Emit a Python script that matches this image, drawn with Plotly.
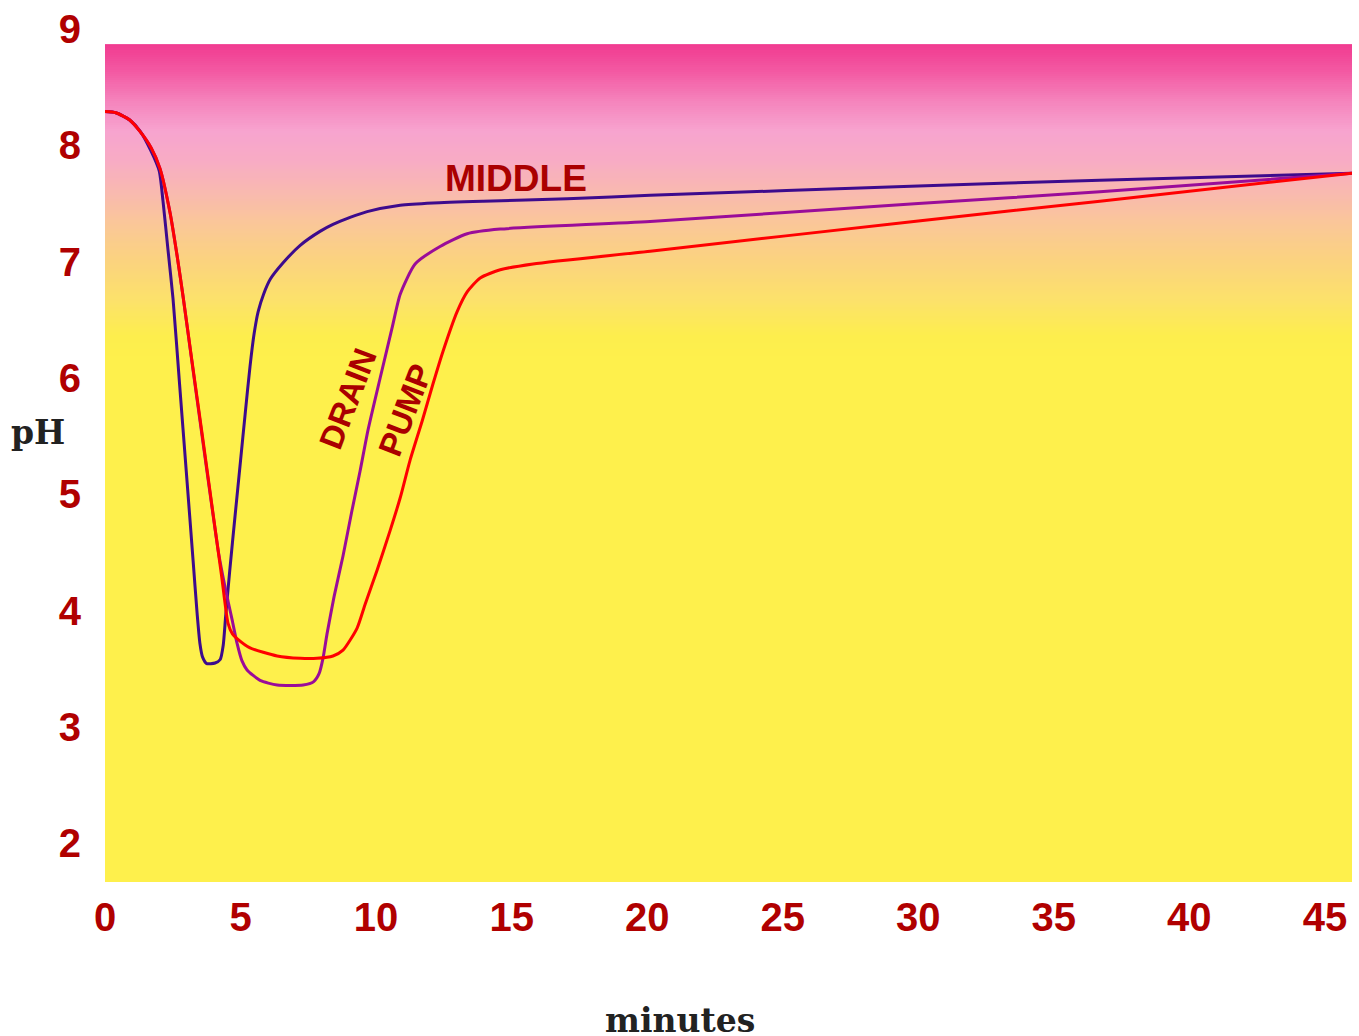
import numpy as np
import plotly.graph_objects as go

# ---------------- data ----------------
middle_t = [0, 0.4, 0.9, 1.3, 1.7, 2.0, 2.14, 2.32, 2.51, 2.75, 3.00, 3.25, 3.40, 3.50, 3.60,
            3.75, 4.06, 4.25, 4.36, 4.45, 4.60, 4.80, 5.00, 5.17, 5.35, 5.50, 5.65, 5.85, 6.10,
            6.57, 7.20, 7.93, 8.41, 9.04, 9.67, 10.89, 12.10, 13.95, 17.05, 20.11, 30.0, 36.7, 46.0]
middle_ph = [8.29, 8.28, 8.22, 8.12, 7.95, 7.78, 7.52, 7.11, 6.68, 5.95, 5.19, 4.43, 3.97, 3.72, 3.60,
             3.545, 3.55, 3.58, 3.70, 3.95, 4.34, 4.82, 5.29, 5.69, 6.10, 6.38, 6.57, 6.72, 6.85,
             6.99, 7.14, 7.26, 7.32, 7.38, 7.43, 7.485, 7.505, 7.52, 7.54, 7.57, 7.65, 7.70, 7.76]

drain_t = [0, 0.4, 0.9, 1.29, 1.7, 2.03, 2.40, 2.66, 2.88, 3.20, 3.60, 4.00, 4.20, 4.43, 4.69,
           4.87, 5.05, 5.24, 5.72, 6.35, 7.31, 7.70, 7.90, 8.05, 8.19, 8.45, 8.78, 9.11, 9.41,
           9.70, 10.15, 10.59, 10.89, 11.44, 12.36, 13.36, 14.58, 20.11, 30.0, 36.7, 46.0]
drain_ph = [8.29, 8.28, 8.22, 8.12, 7.98, 7.80, 7.42, 7.05, 6.70, 6.15, 5.47, 4.80, 4.48, 4.20, 3.92,
            3.72, 3.57, 3.49, 3.40, 3.36, 3.36, 3.39, 3.46, 3.60, 3.80, 4.12, 4.47, 4.86, 5.20,
            5.55, 6.00, 6.43, 6.72, 6.98, 7.13, 7.24, 7.28, 7.345, 7.50, 7.60, 7.76]

pump_t = [0, 0.4, 0.9, 1.29, 1.7, 2.03, 2.40, 2.66, 2.88, 3.20, 3.60, 4.00, 4.30, 4.54, 4.70,
          4.87, 5.35, 6.35, 7.20, 7.82, 8.41, 8.78, 9.30, 9.59, 10.04, 10.52, 10.89, 11.25, 11.70,
          12.10, 12.47, 12.99, 13.36, 13.84, 14.58, 15.79, 20.11, 30.0, 36.7, 46.0]
pump_ph = [8.29, 8.28, 8.22, 8.12, 7.98, 7.80, 7.42, 7.05, 6.70, 6.16, 5.49, 4.81, 4.30, 3.89, 3.80,
           3.76, 3.68, 3.61, 3.59, 3.59, 3.61, 3.66, 3.85, 4.05, 4.35, 4.69, 4.97, 5.29, 5.63,
           5.95, 6.23, 6.57, 6.74, 6.86, 6.93, 6.98, 7.09, 7.35, 7.52, 7.76]

x_ticks = [0, 5, 10, 15, 20, 25, 30, 35, 40, 45]
y_ticks = [2, 3, 4, 5, 6, 7, 8, 9]

# background gradient stops (pH level -> colour)
bg_levels = [1.6, 6.14, 6.36, 6.66, 7.00, 7.30, 7.60, 7.86, 8.12, 8.37, 8.63, 8.87]
bg_colors = ["#fef04c", "#fef04c", "#fdee4d", "#fce26a", "#fbd37e", "#fac896", "#f9b9b0",
             "#f8acc4", "#f7a4cf", "#f585bd", "#f35aa3", "#f13a90"]

# ---------------- figure ----------------
zmin, zmax = bg_levels[0], bg_levels[-1]
colorscale = [[(v - zmin) / (zmax - zmin), c] for v, c in zip(bg_levels, bg_colors)]
edges = np.linspace(zmin, zmax, 400)
mids = (edges[:-1] + edges[1:]) / 2

fig = go.Figure()
fig.add_trace(go.Heatmap(
    x=[0, 46], y=edges, z=mids.reshape(-1, 1),
    colorscale=colorscale, zmin=zmin, zmax=zmax,
    showscale=False, hoverinfo="skip"))

line_w = 3
fig.add_trace(go.Scatter(x=middle_t, y=middle_ph, mode="lines",
                         line=dict(color="#3d0b8d", width=line_w, shape="spline", smoothing=0.6)))
fig.add_trace(go.Scatter(x=drain_t, y=drain_ph, mode="lines",
                         line=dict(color="#9a0c99", width=line_w, shape="spline", smoothing=0.6)))
fig.add_trace(go.Scatter(x=pump_t, y=pump_ph, mode="lines",
                         line=dict(color="#ff0000", width=line_w, shape="spline", smoothing=0.6)))

tick_font = dict(family="Liberation Sans", size=40, color="#b00000", weight="bold")
lab_font = dict(family="Liberation Sans", color="#aa0000", weight="bold")
title_font = dict(family="DejaVu Serif", size=33, color="#222222", weight="bold")

fig.update_layout(
    width=1359, height=1036,
    margin=dict(l=105, r=7, t=27, b=154),
    paper_bgcolor="white", plot_bgcolor="white",
    showlegend=False,
    xaxis=dict(range=[0, 46], tickvals=x_ticks, showgrid=False, zeroline=False,
               showline=False, ticks="outside", ticklen=0, tickcolor="rgba(0,0,0,0)",
               tickfont=tick_font, fixedrange=True),
    yaxis=dict(range=[1.667, 9.0], tickvals=y_ticks, showgrid=False, zeroline=False,
               showline=False, ticks="outside", ticklen=15, tickcolor="rgba(0,0,0,0)",
               tickfont=tick_font, fixedrange=True),
    annotations=[
        dict(x=15.17, y=7.714, xref="x", yref="y", text="MIDDLE", showarrow=False,
             font=dict(size=37, **lab_font)),
        dict(x=8.97, y=5.82, xref="x", yref="y", text="DRAIN", showarrow=False,
             textangle=-69, font=dict(size=33, **lab_font)),
        dict(x=11.07, y=5.72, xref="x", yref="y", text="PUMP", showarrow=False,
             textangle=-69, font=dict(size=33, **lab_font)),
        dict(x=-0.054, y=5.53, xref="paper", yref="y", text="pH", showarrow=False,
             xanchor="center", yanchor="middle", font=title_font),
        dict(x=0.461, y=-0.1626, xref="paper", yref="paper", text="minutes", showarrow=False,
             xanchor="center", yanchor="middle", font=title_font),
    ],
)

fig.write_html(
    "out.html",
    config={"displayModeBar": False},
    post_script=("document.body.style.margin='0';"
                 "document.body.style.overflow='hidden';"
                 "document.documentElement.style.overflow='hidden';"),
)
